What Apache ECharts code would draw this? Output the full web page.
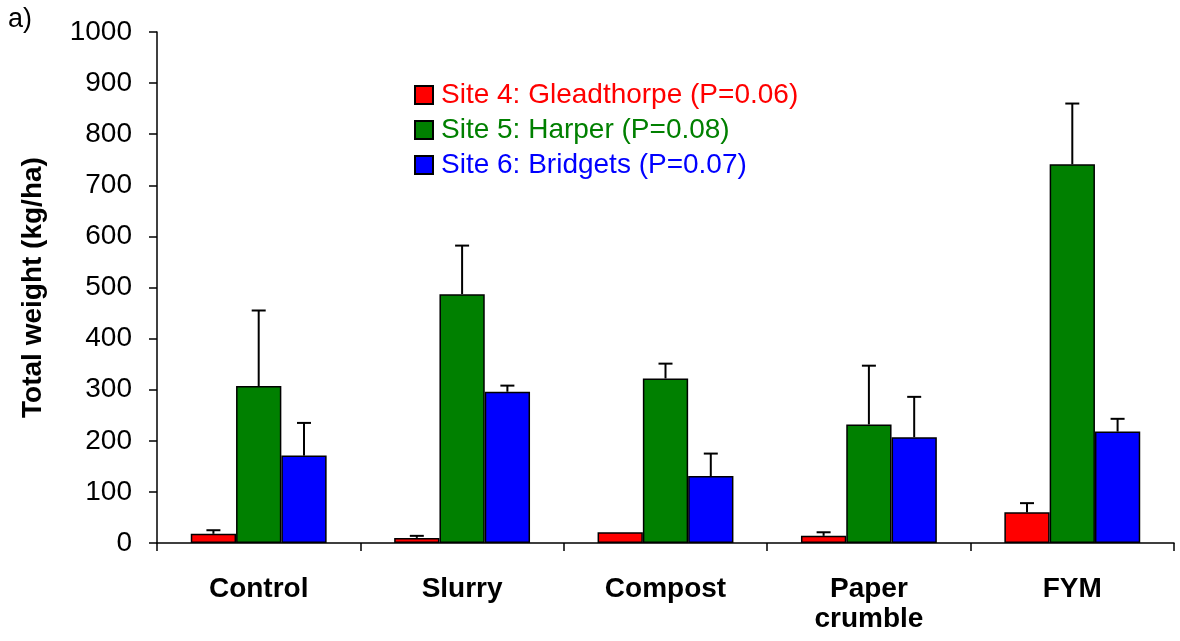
<!DOCTYPE html>
<html>
<head>
<meta charset="utf-8">
<script src="https://cdn.jsdelivr.net/npm/echarts@6/dist/echarts.min.js"></script>
<style>
  html, body { margin: 0; padding: 0; background: #fff; }
  #chart { width: 1180px; height: 641px; }
</style>
</head>
<body>
<div id="chart"></div>
<script>
// Treatments and per-site mean total weight (kg/ha) with standard errors
const categories = ['Control', 'Slurry', 'Compost', 'Paper\ncrumble', 'FYM'];
const seriesNames = [
  'Site 4: Gleadthorpe (P=0.06)',
  'Site 5: Harper (P=0.08)',
  'Site 6: Bridgets (P=0.07)'
];
const seriesColors = ['#ff0000', '#008000', '#0000ff'];
const gleadthorpe = [18, 10, 21, 14, 60];
const harper = [307, 487, 322, 232, 741];
const bridgets = [171, 296, 131, 207, 218];
const gleadthorpeErr = [7, 4, 0, 7, 18];
const harperErr = [148, 95, 29, 115, 119];
const bridgetsErr = [64, 12, 44, 79, 25];
const yTicks = [0, 100, 200, 300, 400, 500, 600, 700, 800, 900, 1000];

const values = [gleadthorpe, harper, bridgets];
const errors = [gleadthorpeErr, harperErr, bridgetsErr];

const FONT = 'Liberation Sans, Arial, sans-serif';
const CAT_GAP = 0.332;

const barSeries = values.map((vals, i) => ({
  name: seriesNames[i],
  type: 'bar',
  data: vals,
  barGap: '0%',
  barCategoryGap: (CAT_GAP * 100) + '%',
  itemStyle: { color: seriesColors[i], borderColor: '#000', borderWidth: 1.5 },
  z: 2
}));

// Upward error bars with a cap, placed over the matching bar in each group
const errorSeries = values.map((vals, i) => ({
  name: seriesNames[i] + ' error',
  type: 'custom',
  z: 3,
  data: vals.map((v, k) => [k, v, errors[i][k]]),
  encode: { x: 0, y: 1 },
  renderItem: function (params, api) {
    const k = api.value(0);
    const v = api.value(1);
    const e = api.value(2);
    if (!e) return null;
    const band = api.size([1, 0])[0];
    const groupW = band * (1 - CAT_GAP);
    const barW = groupW / 3;
    const base = api.coord([k, v]);
    const top = api.coord([k, v + e]);
    const x = base[0] - groupW / 2 + barW * (i + 0.5);
    const cap = 7;
    const style = { stroke: '#000', lineWidth: 2 };
    return {
      type: 'group',
      children: [
        { type: 'line', shape: { x1: x, y1: base[1], x2: x, y2: top[1] }, style },
        { type: 'line', shape: { x1: x - cap, y1: top[1], x2: x + cap, y2: top[1] }, style }
      ]
    };
  }
}));

const chart = echarts.init(document.getElementById('chart'), null, { renderer: 'canvas' });
chart.setOption({
  animation: false,
  backgroundColor: '#fff',
  title: {
    text: 'a)',
    left: 3,
    top: 1,
    textStyle: { fontFamily: FONT, fontSize: 27, fontWeight: 'normal', color: '#000' }
  },
  grid: { left: 157, right: 6, top: 32, bottom: 98, containLabel: false },
  legend: {
    orient: 'vertical',
    left: 409,
    top: 74,
    itemWidth: 18,
    itemHeight: 18,
    itemGap: 3,
    icon: 'rect',
    data: seriesNames.map((n, i) => ({
      name: n,
      textStyle: { color: seriesColors[i] }
    })),
    textStyle: { fontFamily: FONT, fontSize: 28, lineHeight: 32, padding: [0, 0, 0, 3] }
  },
  xAxis: {
    type: 'category',
    data: categories,
    axisLine: { lineStyle: { color: '#000', width: 1.5 } },
    axisTick: { show: true, length: 8, lineStyle: { color: '#000', width: 1.5 } },
    axisLabel: {
      margin: 31,
      fontFamily: FONT,
      fontSize: 28,
      fontWeight: 'bold',
      color: '#000',
      lineHeight: 30
    }
  },
  yAxis: {
    type: 'value',
    min: yTicks[0],
    max: yTicks[yTicks.length - 1],
    interval: yTicks[1] - yTicks[0],
    name: 'Total weight (kg/ha)',
    nameLocation: 'middle',
    nameGap: 110,
    nameTextStyle: { fontFamily: FONT, fontSize: 28, fontWeight: 'bold', color: '#000' },
    axisLine: { show: true, lineStyle: { color: '#000', width: 1.5 } },
    axisTick: { show: true, length: 8, lineStyle: { color: '#000', width: 1.5 } },
    axisLabel: {
      margin: 25,
      fontFamily: FONT,
      fontSize: 28,
      color: '#000',
      formatter: (v) => String(v)
    },
    splitLine: { show: false }
  },
  series: barSeries.concat(errorSeries)
});
</script>
</body>
</html>
